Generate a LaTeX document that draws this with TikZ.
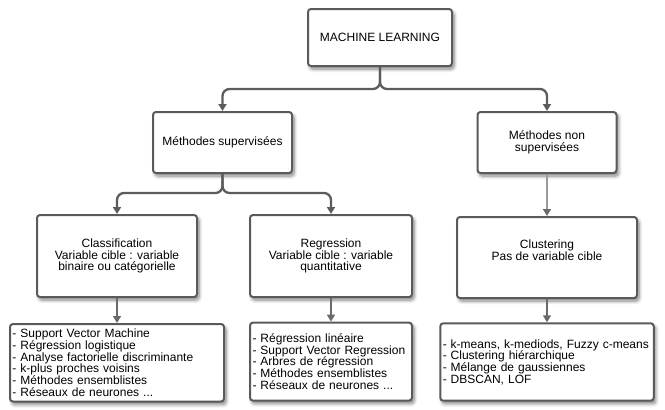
\documentclass[tikz,border=0pt]{standalone}
\usepackage{fontspec}
\setmainfont{Liberation Sans}
\usetikzlibrary{arrows.meta,shadows.blur}
\definecolor{boxline}{HTML}{5A5A5A}
\definecolor{edgecol}{HTML}{5C5C5C}
\definecolor{downcol}{HTML}{6A6A6A}
\definecolor{lightcol}{HTML}{9C9C9C}
\begin{document}
\begin{tikzpicture}[x=1pt,y=-1pt,
  box/.style={draw=boxline, line width=2pt, rounded corners=3pt, fill=white,
    font=\fontsize{12pt}{11.7pt}\selectfont, align=center, inner sep=2pt,
    blur shadow={shadow xshift=2pt, shadow yshift=-3pt, shadow blur radius=3.5pt,
      shadow blur steps=7, shadow opacity=50}},
  listbox/.style={box, align=left, inner xsep=2.5pt},
  fork/.style={draw=edgecol, line width=2.3pt, rounded corners=7pt,
    -{Triangle[width=8pt,length=7pt]}},
  down/.style={draw=downcol, line width=1.6pt, -{Triangle[width=8pt,length=7pt]}},
  lightdown/.style={draw=lightcol, line width=1.5pt, -{Triangle[width=8pt,length=7pt,color=downcol]}}
]
\useasboundingbox (0,0) rectangle (665,410);

\node[box, minimum width=144pt, minimum height=57pt] (ml) at (380,37.5) {MACHINE LEARNING};
\node[box, minimum width=139pt, minimum height=61pt] (sup) at (222.5,142.5) {Méthodes supervisées};
\node[box, minimum width=139pt, minimum height=61pt] (nonsup) at (547,142.5) {Méthodes non\\supervisées};

\node[box, minimum width=160pt, minimum height=82pt] (cls) at (117,256) {Classification\\Variable cible : variable\\binaire ou catégorielle};
\node[box, minimum width=162pt, minimum height=82pt] (reg) at (331,256) {Regression\\Variable cible : variable\\quantitative};
\node[box, minimum width=180pt, minimum height=81pt] (clu) at (547,257.5) {\raisebox{5.5pt}[\height][\depth]{\begin{tabular}{@{}c@{}}Clustering\\Pas de variable cible\end{tabular}}};

\node[listbox, text width=209pt, minimum height=77.5pt] (l1) at (117,362.75) {- Support Vector Machine\\- Régression logistique\\- Analyse factorielle discriminante\\- k-plus proches voisins\\- Méthodes ensemblistes\\- Réseaux de neurones ...};
\node[listbox, text width=157pt, minimum height=78pt] (l2) at (331,361.6) {- Régression linéaire\\- Support Vector Regression\\- Arbres de régression\\- Méthodes ensemblistes\\- Réseaux de neurones ...};
\node[listbox, text width=208.5pt, minimum height=77.4pt] (l3) at (547,362) {- k-means, k-mediods, Fuzzy c-means\\- Clustering hiérarchique\\- Mélange de gaussiennes\\- DBSCAN, LOF};

\coordinate (f1) at (380,89);
\coordinate (f2) at (222.5,193);

\draw[fork] (ml.south) -- (f1) -| (sup.north);
\draw[fork] (ml.south) -- (f1) -| (nonsup.north);
\draw[fork] (sup.south) -- (f2) -| (cls.north);
\draw[fork] (sup.south) -- (f2) -| (reg.north);

\draw[down] (cls.south) -- (cls.south |- l1.north);
\draw[down] (reg.south) -- (reg.south |- l2.north);
\draw[lightdown] (nonsup.south) -- (nonsup.south |- clu.north);
\draw[down] (clu.south) -- (clu.south |- l3.north);
\end{tikzpicture}
\end{document}
